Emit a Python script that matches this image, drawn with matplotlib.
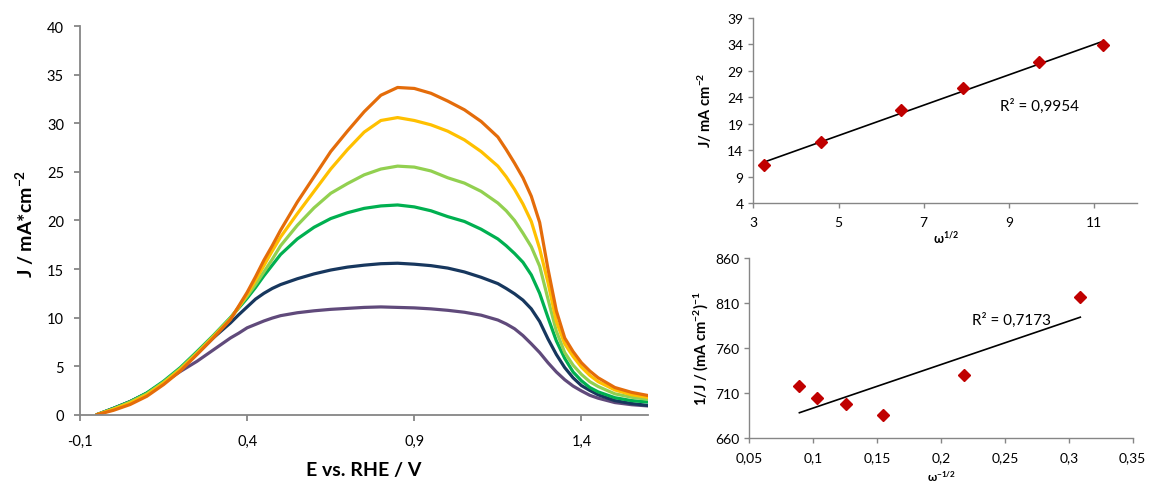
import numpy as np
import matplotlib
matplotlib.use("Agg")
import matplotlib.pyplot as plt
from matplotlib.ticker import FuncFormatter

plt.rcParams['font.family'] = ['Lato', 'DejaVu Sans']
plt.rcParams['mathtext.fontset'] = 'custom'
plt.rcParams['mathtext.rm'] = 'Lato'
plt.rcParams['mathtext.bf'] = 'Lato:bold'
plt.rcParams['mathtext.it'] = 'Lato:italic'

# ---- Linear sweep voltammograms at different rotation rates ----
potential = [-0.05, 0.0, 0.05, 0.10, 0.15, 0.20, 0.25, 0.30, 0.35, 0.375,
             0.40, 0.425, 0.45, 0.475, 0.50, 0.55, 0.60, 0.65, 0.70, 0.75,
             0.80, 0.85, 0.90, 0.95, 1.00, 1.05, 1.10, 1.15, 1.175, 1.20,
             1.225, 1.25, 1.275, 1.30, 1.325, 1.35, 1.375, 1.40, 1.425, 1.45,
             1.50, 1.55, 1.60]

j_100 = [0.0, 0.65, 1.35, 2.2, 3.3, 4.45, 5.5, 6.7, 7.9, 8.4,
         8.95, 9.3, 9.65, 9.95, 10.2, 10.5, 10.7, 10.85, 10.95, 11.05,
         11.1, 11.05, 11.0, 10.9, 10.75, 10.55, 10.25, 9.75, 9.35, 8.85,
         8.15, 7.3, 6.4, 5.35, 4.4, 3.6, 2.95, 2.45, 2.0, 1.7,
         1.25, 1.03, 0.9]
j_200 = [0.0, 0.65, 1.35, 2.2, 3.35, 4.7, 6.25, 7.95, 9.45, 10.3,
         11.1, 11.9, 12.5, 13.0, 13.4, 14.0, 14.5, 14.9, 15.2, 15.4,
         15.55, 15.6, 15.5, 15.35, 15.1, 14.7, 14.15, 13.5, 13.0, 12.45,
         11.8, 10.9, 9.6, 7.8, 6.2, 4.85, 3.8, 3.0, 2.5, 2.05,
         1.45, 1.15, 0.95]
j_400 = [0.0, 0.65, 1.35, 2.25, 3.45, 4.85, 6.5, 8.2, 10.0, 11.0,
         12.0, 13.1, 14.3, 15.4, 16.5, 18.1, 19.3, 20.2, 20.8, 21.25,
         21.5, 21.6, 21.4, 21.0, 20.4, 19.9, 19.1, 18.1, 17.4, 16.6,
         15.7, 14.4, 12.5, 10.0, 7.6, 5.8, 4.4, 3.5, 2.8, 2.35,
         1.75, 1.45, 1.3]
j_600 = [0.0, 0.6, 1.3, 2.15, 3.35, 4.75, 6.4, 8.15, 9.95, 11.1,
         12.2, 13.4, 14.7, 16.0, 17.4, 19.5, 21.3, 22.8, 23.8, 24.7,
         25.3, 25.6, 25.5, 25.1, 24.4, 23.85, 23.0, 21.8, 21.0, 20.0,
         18.7, 17.3, 15.3, 11.9, 8.6, 6.4, 5.1, 4.15, 3.4, 2.9,
         2.15, 1.8, 1.58]
j_900 = [0.0, 0.55, 1.2, 2.05, 3.25, 4.65, 6.3, 8.05, 9.85, 11.1,
         12.4, 13.85, 15.35, 16.85, 18.3, 20.7, 23.0, 25.3, 27.3, 29.1,
         30.3, 30.6, 30.3, 29.85, 29.2, 28.3, 27.1, 25.6, 24.5, 23.2,
         21.7, 19.9, 17.1, 13.6, 9.6, 7.3, 6.0, 4.9, 4.05, 3.4,
         2.55, 2.05, 1.78]
j_1200 = [0.0, 0.45, 1.05, 1.9, 3.1, 4.5, 6.2, 7.95, 9.8, 11.2,
          12.6, 14.2, 15.9, 17.4, 19.0, 21.9, 24.5, 27.1, 29.2, 31.2,
          32.9, 33.7, 33.6, 33.1, 32.3, 31.4, 30.2, 28.6, 27.3, 25.9,
          24.4, 22.5, 19.8, 15.0, 10.7, 7.9, 6.5, 5.35, 4.5, 3.8,
          2.8, 2.3, 1.97]

curves = [j_100, j_200, j_400, j_600, j_900, j_1200]
curve_colors = ['#604A7B', '#17375E', '#00B050', '#92D050', '#FFC000', '#E46C0A']

main_xticks = [-0.1, 0.4, 0.9, 1.4]
main_yticks = [0, 5, 10, 15, 20, 25, 30, 35, 40]

# ---- Levich plot ----
omega_sqrt = [3.24, 4.58, 6.47, 7.93, 9.71, 11.21]
j_lim = [11.1, 15.5, 21.6, 25.7, 30.6, 33.8]
levich_xticks = [3, 5, 7, 9, 11]
levich_yticks = [4, 9, 14, 19, 24, 29, 34, 39]
levich_r2 = "R² = 0,9954"

# ---- Koutecky-Levich plot ----
omega_inv_sqrt = [0.0892, 0.1030, 0.1257, 0.1544, 0.2183, 0.3090]
inv_j = [718.4, 704.4, 698.1, 685.9, 730.2, 817.1]
kl_xticks = [0.05, 0.1, 0.15, 0.2, 0.25, 0.3, 0.35]
kl_yticks = [660, 710, 760, 810, 860]
kl_r2 = "R² = 0,7173"

W, H = 1149, 485
fig = plt.figure(figsize=(W / 100, H / 100), dpi=100)

def px_axes(left, top, right, bottom):
    return fig.add_axes([left / W, 1 - bottom / H, (right - left) / W, (bottom - top) / H])

def comma(fmt):
    return FuncFormatter(lambda v, p: (fmt % v).replace('.', ','))

spine_gray = '#868686'

def style_axes(ax, lw, ticklen, fontsize):
    for s in ('top', 'right'):
        ax.spines[s].set_visible(False)
    for s in ('left', 'bottom'):
        ax.spines[s].set_color(spine_gray)
        ax.spines[s].set_linewidth(lw)
    ax.tick_params(direction='out', length=ticklen, width=lw, color=spine_gray,
                   labelsize=fontsize, labelcolor='black')

# main voltammogram panel
ax = px_axes(80, 27.3, 648.3, 415.7)
for j, c in zip(curves, curve_colors):
    ax.plot(potential, j, color=c, lw=2.3, solid_capstyle='round', solid_joinstyle='round')
ax.set_xlim(-0.1, 1.6)
ax.set_ylim(0, 40)
ax.set_xticks(main_xticks)
ax.set_yticks(main_yticks)
ax.xaxis.set_major_formatter(comma('%.1f'))
style_axes(ax, 1.3, 4.5, 10.5)
ax.tick_params(axis='x', pad=9)
ax.tick_params(axis='y', pad=7)
fig.text(25 / W, 1 - 224 / H, r"J / mA*cm$^{\mathbf{-2}}$", rotation=90,
         ha='center', va='center', fontsize=14, fontweight='bold')
fig.text(364 / W, 1 - 471 / H, "E vs. RHE / V", ha='center', va='center',
         fontsize=14, fontweight='bold')

# Levich panel
ax1 = px_axes(753.3, 19, 1136.7, 204)
ax1.plot(omega_sqrt, j_lim, linestyle='none', marker='D', ms=6.5,
         color='#C00000', zorder=3)
k1 = np.polyfit(omega_sqrt, j_lim, 1)
x1 = np.array([omega_sqrt[0], omega_sqrt[-1]])
ax1.plot(x1, np.polyval(k1, x1), color='black', lw=1.2, zorder=2)
ax1.set_xlim(3, 12)
ax1.set_ylim(4, 39)
ax1.set_xticks(levich_xticks)
ax1.set_yticks(levich_yticks)
style_axes(ax1, 1.0, 3.5, 10)
ax1.tick_params(axis='x', pad=6)
ax1.text(8.78, 22.4, levich_r2, fontsize=11, ha='left', va='center')
fig.text(705 / W, 1 - 110 / H, r"J/ mA cm$^{\mathbf{-2}}$", rotation=90,
         ha='center', va='center', fontsize=10.5, fontweight='bold')
fig.text(946 / W, 1 - 238 / H, r"ω$^{\mathbf{1/2}}$", ha='center', va='center',
         fontsize=9, fontweight='bold')

# Koutecky-Levich panel
ax2 = px_axes(749.3, 259, 1132.7, 439.3)
ax2.plot(omega_inv_sqrt, inv_j, linestyle='none', marker='D', ms=6.5,
         color='#C00000', zorder=3)
k2 = np.polyfit(omega_inv_sqrt, inv_j, 1)
x2 = np.array([omega_inv_sqrt[0], omega_inv_sqrt[-1]])
ax2.plot(x2, np.polyval(k2, x2), color='black', lw=1.2, zorder=2)
ax2.set_xlim(0.05, 0.35)
ax2.set_ylim(660, 860)
ax2.set_xticks(kl_xticks)
ax2.set_yticks(kl_yticks)
ax2.xaxis.set_major_formatter(comma('%g'))
style_axes(ax2, 1.0, 3.5, 10)
ax2.tick_params(axis='x', pad=6)
ax2.text(0.224, 792.3, kl_r2, fontsize=11, ha='left', va='center')
fig.text(701 / W, 1 - 349 / H, r"1/J / (mA cm$^{\mathbf{-2}}$)$^{\mathbf{-1}}$", rotation=90,
         ha='center', va='center', fontsize=10.5, fontweight='bold')
fig.text(942 / W, 1 - 477 / H, r"ω$^{\mathbf{-1/2}}$", ha='center', va='center',
         fontsize=8.5, fontweight='bold')

fig.savefig("out.png", dpi=100)
